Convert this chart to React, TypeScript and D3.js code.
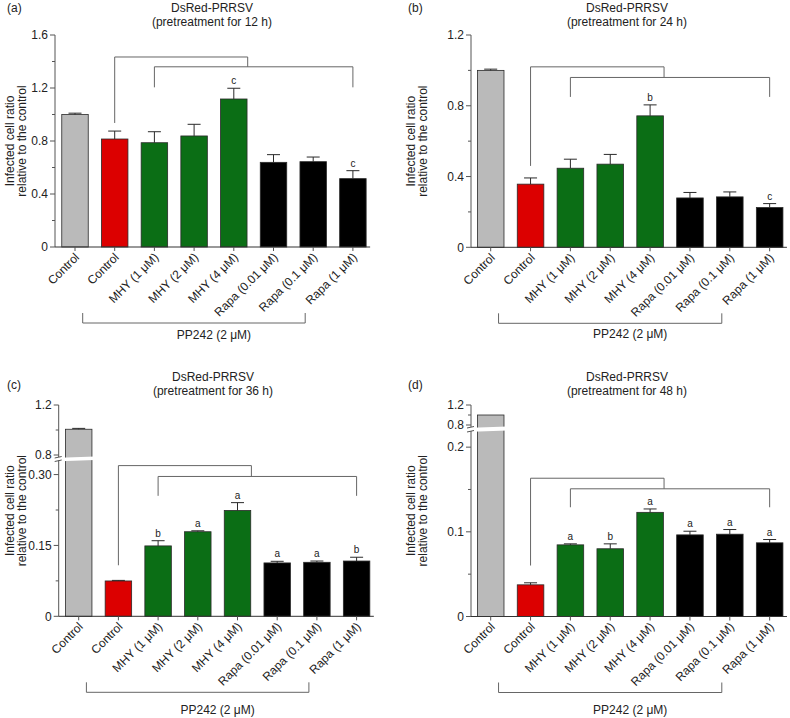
import React from "react";
import * as d3 from "d3";

// treatment groups (same in all four panels)
const categories = [
  "Control",
  "Control",
  "MHY (1 μM)",
  "MHY (2 μM)",
  "MHY (4 μM)",
  "Rapa (0.01 μM)",
  "Rapa (0.1 μM)",
  "Rapa (1 μM)",
];
const groupColors = ["#bababa", "#dc0000", "#0b6e15", "#0b6e15", "#0b6e15", "#000000", "#000000", "#000000"];

// 12 h pretreatment
const values12h = [1.0, 0.815, 0.787, 0.838, 1.117, 0.639, 0.644, 0.516];
const errors12h = [0.01, 0.06, 0.083, 0.088, 0.081, 0.058, 0.035, 0.06];
const letters12h = ["", "", "", "", "c", "", "", "c"];
const ticks12h = [0, 0.4, 0.8, 1.2, 1.6];
const tickLabels12h = ["0", "0.4", "0.8", "1.2", "1.6"];
const minor12h = [0.2, 0.6, 1.0, 1.4];

// 24 h pretreatment
const values24h = [1.0, 0.357, 0.447, 0.47, 0.743, 0.279, 0.285, 0.225];
const errors24h = [0.007, 0.035, 0.051, 0.055, 0.062, 0.031, 0.028, 0.022];
const letters24h = ["", "", "", "", "b", "", "", "c"];
const ticks24h = [0, 0.4, 0.8, 1.2];
const tickLabels24h = ["0", "0.4", "0.8", "1.2"];
const minor24h = [0.2, 0.6, 1.0];

// 36 h pretreatment
const values36h = [1.006, 0.0748, 0.149, 0.179, 0.224, 0.113, 0.1143, 0.117];
const errors36h = [0.007, 0.0012, 0.011, 0.002, 0.0166, 0.0034, 0.0027, 0.008];
const letters36h = ["", "", "b", "a", "a", "a", "a", "b"];
const ticks36h = [0, 0.15, 0.3, 0.8, 1.2];
const tickLabels36h = ["0", "0.15", "0.30", "0.8", "1.2"];
const minor36h = [0.075, 0.225, 1.0];

// 48 h pretreatment
const values48h = [1.0, 0.0374, 0.0846, 0.08, 0.123, 0.0964, 0.0972, 0.087];
const errors48h = [0, 0.0024, 0.0012, 0.0058, 0.004, 0.0043, 0.0055, 0.0039];
const letters48h = ["", "", "a", "b", "a", "a", "a", "a"];
const ticks48h = [0, 0.1, 0.2, 0.8, 1.2];
const tickLabels48h = ["0", "0.1", "0.2", "0.8", "1.2"];
const minor48h = [0.05, 0.15, 1.0];

const FONT = "'Liberation Sans', Arial, Helvetica, sans-serif";

interface Seg { domain: [number, number]; range: [number, number] }
interface PanelCfg {
  tag: string;
  hours: string;
  values: number[];
  errors: number[];
  letters: string[];
  ticks: number[];
  tickLabels: string[];
  minor: number[];
  axisX: number;
  firstCenter: number;
  step: number;
  y0: number;
  segments: Seg[];
  gap: [number, number] | null;
  brackets: number[]; // top, second, leg end, control leg end
  titleX: number;
  titleY: number;
  tagX: number;
  tagY: number;
  ylabX: number;
  ppText: number;
}

const panels: PanelCfg[] = [
  {
    tag: "(a)", hours: "12", values: values12h, errors: errors12h, letters: letters12h,
    ticks: ticks12h, tickLabels: tickLabels12h, minor: minor12h,
    axisX: 55, firstCenter: 75, step: 39.7, y0: 247,
    segments: [{ domain: [0, 1.6], range: [247, 35] }], gap: null,
    brackets: [1.434, 1.36, 1.205, 0.936],
    titleX: 212, titleY: 11.5, tagX: 7, tagY: 11.5, ylabX: 9.5, ppText: 92,
  },
  {
    tag: "(b)", hours: "24", values: values24h, errors: errors24h, letters: letters24h,
    ticks: ticks24h, tickLabels: tickLabels24h, minor: minor24h,
    axisX: 471, firstCenter: 490.7, step: 39.85, y0: 247.3,
    segments: [{ domain: [0, 1.2], range: [247.3, 35] }], gap: null,
    brackets: [1.02, 0.96, 0.85, 0.46],
    titleX: 627, titleY: 11.5, tagX: 408, tagY: 11.5, ylabX: 411, ppText: 91,
  },
  {
    tag: "(c)", hours: "36", values: values36h, errors: errors36h, letters: letters36h,
    ticks: ticks36h, tickLabels: tickLabels36h, minor: minor36h,
    axisX: 58.7, firstCenter: 78.7, step: 39.7, y0: 616.3,
    segments: [
      { domain: [0, 0.33], range: [616.3, 460.4] },
      { domain: [0.8, 1.2], range: [455, 405] },
    ],
    gap: [457, 460.5],
    brackets: [0.319, 0.296, 0.255, 0.108],
    titleX: 213, titleY: 381, tagX: 7, tagY: 388.5, ylabX: 10, ppText: 98,
  },
  {
    tag: "(d)", hours: "48", values: values48h, errors: errors48h, letters: letters48h,
    ticks: ticks48h, tickLabels: tickLabels48h, minor: minor48h,
    axisX: 471, firstCenter: 490.7, step: 39.85, y0: 616.5,
    segments: [
      { domain: [0, 0.218], range: [616.5, 431.9] },
      { domain: [0.8, 1.2], range: [425, 405] },
    ],
    gap: [427, 431],
    brackets: [0.1633, 0.1508, 0.129, 0.0602],
    titleX: 627, titleY: 381, tagX: 408, tagY: 388.5, ylabX: 411, ppText: 97.5,
  },
];

function makeY(segs: Seg[]) {
  const scales = segs.map((s) => d3.scaleLinear().domain(s.domain).range(s.range));
  return (v: number) => {
    for (let i = segs.length - 1; i >= 0; i--) {
      if (v >= segs[i].domain[0]) return scales[i](v);
    }
    return scales[0](v);
  };
}

function Panel({ p }: { p: PanelCfg }) {
  const y = makeY(p.segments);
  const start = p.firstCenter - p.step / 2;
  const x = d3
    .scaleBand<number>()
    .domain(d3.range(categories.length))
    .range([start, start + p.step * categories.length])
    .paddingInner(0.333)
    .paddingOuter(0.1665);
  const bw = x.bandwidth();
  const cx = (i: number) => (x(i) as number) + bw / 2;
  const xAt = (t: number) => start + p.step * (t + 0.5);
  const axisEnd = (x(categories.length - 1) as number) + bw + 4;
  const yTop = p.segments[p.segments.length - 1].range[1];
  const [bTop, bSecond, bLeg, bCtrl] = p.brackets.map(y);
  const junction = xAt(4.35);
  const ppLeft = cx(1) - 32;
  const ppRight = cx(6) - 8;
  const ppY = p.y0 + 76;
  const axisColor = "#555";
  const bracketColor = "#666";

  return (
    <g fontFamily={FONT}>
      <text x={p.tagX} y={p.tagY} fontSize={12} fill="#222">{p.tag}</text>
      <text x={p.titleX} y={p.titleY} fontSize={12} fill="#222" textAnchor="middle">DsRed-PRRSV</text>
      <text x={p.titleX} y={p.titleY + 14} fontSize={12} fill="#222" textAnchor="middle">
        (pretreatment for {p.hours} h)
      </text>

      {/* y axis title */}
      <g transform={`translate(${p.ylabX + 4},${(yTop + p.y0) / 2}) rotate(-90)`}>
        <text fontSize={12} fill="#222" textAnchor="middle">Infected cell ratio</text>
        <text y={12} fontSize={12} fill="#222" textAnchor="middle">relative to the control</text>
      </g>

      {/* bars */}
      {p.values.map((v, i) => (
        <rect
          key={"bar" + i}
          x={x(i)}
          y={y(v)}
          width={bw}
          height={p.y0 - y(v)}
          fill={groupColors[i]}
          stroke="#2a2a2a"
          strokeWidth={0.8}
        />
      ))}

      {/* error bars (upper only) */}
      {p.values.map((v, i) =>
        p.errors[i] > 0 ? (
          <g key={"err" + i} stroke="#2a2a2a" strokeWidth={1}>
            <line x1={cx(i)} x2={cx(i)} y1={y(v)} y2={y(v + p.errors[i])} />
            <line x1={cx(i) - 6.5} x2={cx(i) + 6.5} y1={y(v + p.errors[i])} y2={y(v + p.errors[i])} />
          </g>
        ) : null
      )}

      {/* significance letters */}
      {p.values.map((v, i) =>
        p.letters[i] ? (
          <text
            key={"let" + i}
            x={cx(i)}
            y={y(v + p.errors[i]) - 4}
            fontSize={10}
            fill="#222"
            textAnchor="middle"
          >
            {p.letters[i]}
          </text>
        ) : null
      )}

      {/* comparison brackets */}
      <g stroke={bracketColor} strokeWidth={1} fill="none">
        <polyline points={`${cx(1)},${bCtrl} ${cx(1)},${bTop} ${junction},${bTop} ${junction},${bSecond}`} />
        <polyline points={`${cx(2)},${bLeg} ${cx(2)},${bSecond} ${cx(7)},${bSecond} ${cx(7)},${bLeg}`} />
      </g>

      {/* axis break */}
      {p.gap && (
        <polygon
          points={`${p.axisX - 6},${p.gap[0] + 1} ${cx(0) + bw / 2 + 3},${p.gap[0] - 0.5} ${cx(0) + bw / 2 + 3},${p.gap[1] - 0.5} ${p.axisX - 6},${p.gap[1] + 1}`}
          fill="#fff"
        />
      )}

      {/* y axis */}
      <g stroke={axisColor} strokeWidth={1}>
        {p.gap ? (
          <>
            <line x1={p.axisX} x2={p.axisX} y1={yTop} y2={p.gap[0]} />
            <line x1={p.axisX} x2={p.axisX} y1={p.gap[1]} y2={p.y0} />
            <line x1={p.axisX - 4} x2={p.axisX + 3} y1={p.gap[0] + 1} y2={p.gap[0] - 0.5} />
            <line x1={p.axisX - 4} x2={p.axisX + 3} y1={p.gap[1] + 1} y2={p.gap[1] - 0.5} />
          </>
        ) : (
          <line x1={p.axisX} x2={p.axisX} y1={yTop} y2={p.y0} />
        )}
        {p.ticks.map((t) => (
          <line key={"t" + t} x1={p.axisX - 5} x2={p.axisX} y1={y(t)} y2={y(t)} />
        ))}
        {p.minor.map((t) => (
          <line key={"m" + t} x1={p.axisX - 3} x2={p.axisX} y1={y(t)} y2={y(t)} />
        ))}
      </g>
      {p.ticks.map((t, i) => (
        <text
          key={"tl" + t}
          x={p.axisX - 7}
          y={y(t)}
          dy="0.35em"
          fontSize={12}
          fill="#222"
          textAnchor="end"
        >
          {p.tickLabels[i]}
        </text>
      ))}

      {/* x axis */}
      <line x1={p.axisX} x2={axisEnd} y1={p.y0} y2={p.y0} stroke="#333" strokeWidth={1} />
      {categories.map((c, i) => (
        <g key={"xl" + i}>
          <line x1={cx(i)} x2={cx(i)} y1={p.y0} y2={p.y0 + 4} stroke={axisColor} />
          <text
            transform={`translate(${cx(i) + 5},${p.y0 + 11}) rotate(-45)`}
            fontSize={12}
            fill="#222"
            textAnchor="end"
          >
            {c}
          </text>
        </g>
      ))}

      {/* PP242 group bracket */}
      <polyline
        points={`${ppLeft},${ppY - 10} ${ppLeft},${ppY} ${ppRight},${ppY} ${ppRight},${ppY - 10}`}
        stroke={bracketColor}
        strokeWidth={1}
        fill="none"
      />
      <text
        x={(cx(0) + cx(7)) / 2}
        y={p.y0 + p.ppText}
        fontSize={12}
        fill="#222"
        textAnchor="middle"
      >
        PP242 (2 μM)
      </text>
    </g>
  );
}

export default function App() {
  return (
    <svg
      width={790}
      height={718}
      style={{ position: "absolute", left: 0, top: 0, background: "#fff", display: "block" }}
    >
      <rect width={790} height={718} fill="#fff" />
      {panels.map((p) => (
        <Panel key={p.tag} p={p} />
      ))}
    </svg>
  );
}
